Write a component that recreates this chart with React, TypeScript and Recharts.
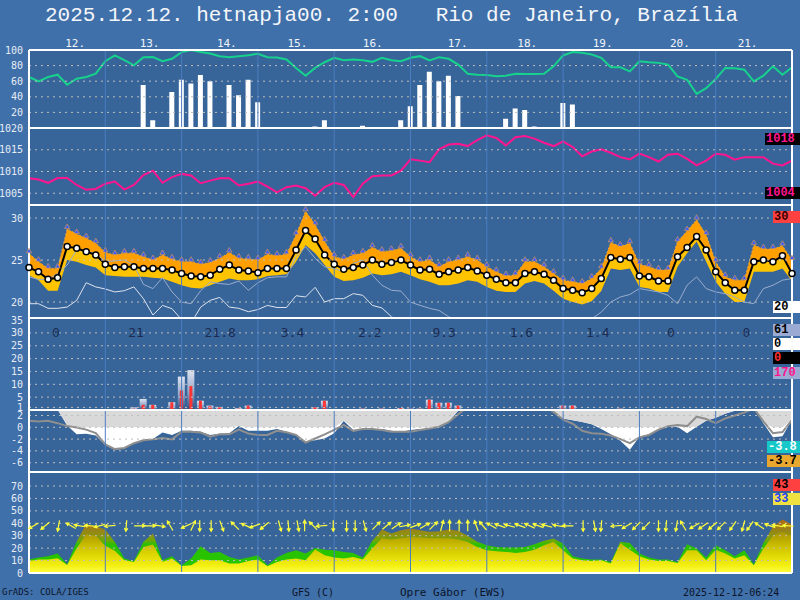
import React from 'react';
import { ComposedChart, Line, Area, Bar, Scatter, XAxis, YAxis, CartesianGrid, ReferenceLine } from 'recharts';

const PAGE_BG = '#4070aa';
const PANEL_BG = '#37659a';
const GRID = '#bdbdbd';
const DAYLINE = '#4a7cc0';
const MONO = '"DejaVu Sans Mono", monospace';
const LABEL_FONT = '"Liberation Mono", monospace';

// 3-hourly steps, index 0..80 (10 days)
const dayNames = ['12.', '13.', '14.', '15.', '16.', '17.', '18.', '19.', '20.', '21.'];
const dayNamePos = [3.8, 11.6, 19.7, 27.1, 35.0, 43.9, 51.2, 59.1, 67.2, 74.3];
const dayLines = [8, 16, 24, 32, 40, 48, 56, 64, 72];
const dayTotals = ['0', '21', '21.8', '3.4', '2.2', '9.3', '1.6', '1.4', '0', '0'];
const dayTotalPos = [2.4, 10.4, 18.4, 26.4, 34.5, 42.3, 50.4, 58.4, 66.9, 74.8];

const humidity = [
  65.4, 59.7, 65.4, 68.3, 55.4, 63.2, 65.4, 69.6, 85.6, 93.0,
  86.9, 80.4, 90.8, 90.9, 85.6, 88.7, 97.3, 99.9, 97.3, 95.6,
  92.1, 90.8, 92.1, 93.4, 95.2, 90.8, 90.4, 87.8, 77.0, 67.1,
  77.0, 84.3, 90.0, 86.9, 87.8, 86.9, 84.8, 90.0, 86.9, 85.6,
  90.0, 92.1, 86.5, 90.8, 88.7, 81.3, 69.6, 68.3, 67.9, 66.2,
  67.1, 69.6, 69.2, 69.2, 69.6, 79.1, 93.0, 97.3, 96.5, 94.3,
  90.0, 77.8, 77.8, 72.6, 85.6, 84.3, 83.5, 81.3, 66.2, 61.9,
  43.7, 51.1, 62.8, 77.0, 76.6, 74.8, 59.7, 67.1, 79.1, 68.3, 77.8,
];

const precipProb = [
  null, null, null, null, null, null, null, null, null, null,
  null, null, 55, 10, null, 46, 62, 57, 68, 60,
  null, 55, 42, 62, 33, null, null, null, null, null,
  2, 10, null, null, null, 3, null, null, null, 10,
  28, 55, 72, 60, 67, 41, null, null, null, null,
  12, 25, 23, 2, null, null, 32, 30, null, null,
  null, null, null, null, null, null, null, null, null, null,
  null, null, null, null, null, null, null, null, null, null, null,
];

const pressure = [
  1008.45, 1008.15, 1007.4, 1008.5, 1008.5, 1006.9, 1005.8, 1006.0, 1007.2, 1007.7,
  1005.85, 1006.9, 1009.2, 1010.2, 1007.4, 1008.7, 1009.45, 1009.1, 1007.3, 1007.9,
  1008.45, 1008.45, 1006.8, 1007.2, 1007.7, 1006.5, 1005.2, 1006.4, 1006.8, 1006.15,
  1004.45, 1006.4, 1007.4, 1006.9, 1004.1, 1007.2, 1008.9, 1009.1, 1009.1, 1010.2,
  1012.8, 1012.5, 1012.15, 1015.1, 1016.2, 1016.4, 1015.85, 1017.2, 1018.3, 1017.7,
  1016.0, 1017.9, 1018.15, 1017.55, 1016.6, 1015.85, 1016.9, 1015.6, 1013.5, 1014.6,
  1015.1, 1014.3, 1013.3, 1012.8, 1014.1, 1013.3, 1012.3, 1013.85, 1014.1, 1012.9,
  1011.4, 1012.5, 1014.1, 1013.85, 1012.7, 1013.3, 1013.3, 1013.3, 1011.8, 1011.4, 1012.5,
];

const tempMain = [
  24.1, 23.6, 22.7, 22.9, 26.6, 26.4, 26.0, 25.6, 24.5, 24.1,
  24.2, 24.2, 24.0, 24.0, 24.0, 23.8, 23.4, 23.1, 23.0, 23.2,
  23.9, 24.4, 23.8, 23.7, 23.5, 24.0, 24.0, 24.0, 26.2, 28.5,
  27.5, 25.6, 24.5, 23.9, 24.1, 24.4, 25.0, 24.5, 24.7, 25.0,
  24.4, 23.8, 23.9, 23.3, 23.6, 23.8, 24.1, 23.7, 23.2, 22.7,
  22.3, 22.3, 23.4, 23.6, 23.3, 22.6, 21.6, 21.4, 21.1, 21.6,
  22.8, 25.3, 25.1, 25.3, 23.1, 23.0, 22.5, 22.5, 25.4, 26.5,
  27.8, 26.2, 23.6, 22.3, 21.4, 21.4, 24.8, 25.0, 24.8, 25.5, 23.4,
];

const tempHigh = [
  25.8, 24.8, 24.0, 24.0, 28.7, 28.1, 27.6, 27.0, 25.9, 25.6,
  25.8, 25.8, 25.4, 25.0, 25.6, 25.1, 24.8, 24.8, 24.5, 24.7,
  25.2, 25.9, 25.2, 25.1, 25.0, 25.7, 25.5, 25.7, 28.0, 30.8,
  29.2, 27.2, 25.4, 25.1, 25.6, 25.8, 26.5, 26.0, 26.1, 26.4,
  25.4, 24.8, 25.0, 24.2, 24.8, 25.0, 25.4, 25.0, 24.2, 23.6,
  23.1, 23.2, 24.8, 24.8, 24.2, 23.4, 22.6, 22.4, 22.2, 22.8,
  24.0, 27.1, 26.6, 27.0, 24.5, 24.2, 23.8, 23.8, 27.2, 28.45,
  29.8, 28.0, 24.8, 23.0, 22.6, 22.6, 26.8, 26.3, 26.3, 26.7, 25.0,
];

const tempLow = [
  23.2, 22.6, 21.35, 21.35, 25.0, 24.8, 24.4, 24.1, 23.2, 23.1,
  23.0, 23.0, 23.0, 22.9, 22.8, 22.4, 22.0, 21.7, 21.6, 22.0,
  22.4, 22.8, 22.6, 22.6, 22.7, 23.1, 23.2, 23.3, 24.8, 26.8,
  25.8, 24.4, 23.0, 22.5, 22.6, 22.9, 23.4, 23.2, 23.3, 23.6,
  23.2, 22.7, 22.4, 22.0, 22.0, 22.2, 22.6, 22.4, 21.8, 21.35,
  21.2, 21.2, 22.2, 22.5, 22.2, 21.35, 20.4, 20.0, 19.7, 20.1,
  21.3, 24.0, 23.8, 24.0, 21.8, 21.6, 21.2, 21.2, 24.2, 25.8,
  27.2, 24.8, 22.4, 21.0, 20.0, 20.0, 23.6, 23.6, 23.6, 24.0, 22.5,
];

const tempLineA = [
  23.0, 22.7, 22.7, 23.4, 24.4, 26.2, 26.0, 25.8, 24.8, 24.9,
  25.0, 24.4, 22.1, 21.6, 22.9, 21.2, 20.0, 19.8, 21.35, 22.4,
  22.2, 22.1, 22.5, 21.4, 22.3, 22.9, 23.0, 23.0, 25.4, 26.6,
  25.2, 24.2, 24.0, 23.6, 24.6, 25.0, 23.2, 22.0, 21.4, 21.3,
  20.0, 19.6, 19.25, 19.0, 18.25, 17.7, null, null, null, null,
  null, null, null, null, null, null, null, null, 17.5, 18.0,
  18.8, 20.0, 20.6, 20.9, 21.6, 21.4, 21.2, 20.8, 19.8, 22.0,
  23.0, 21.6, 21.2, 21.0, 20.6, 20.0, 19.8, 21.6, 22.0, 22.6, 22.8,
];

const tempLineB = [
  19.8, 19.8, 19.25, 19.25, 19.4, 20.2, 22.3, 21.8, 21.55, 21.2,
  21.35, 21.8, 20.4, 18.45, 19.6, 19.2, 17.9, 17.5, 19.4, 20.2,
  20.55, 19.4, 19.25, 18.85, 19.1, 19.6, 19.35, 19.35, 20.75, 20.6,
  21.75, 20.0, 20.4, 20.4, 21.0, 20.8, 19.6, 19.3, 18.25, 17.6,
  null, null, null, null, null, null, null, null, null, null,
  null, null, null, null, null, null, null, null, null, null,
  null, null, null, null, null, null, null, null, null, null,
  null, null, null, null, null, null, null, null, null, null, null,
];

const precipTotal = [
  null, null, null, null, null, null, null, null, null, null,
  null, 1.0, 4.3, 2.0, null, 3.0, 13.0, 15.5, 3.6, 1.7,
  1.2, null, 0.7, 1.7, null, null, null, null, null, null,
  1.0, 3.6, null, null, null, 0.5, null, 0.5, null, 0.7,
  0.5, 0.5, 4.0, 2.8, 2.8, 1.7, null, null, null, null,
  null, null, null, null, null, null, 1.7, 1.7, null, null,
  null, null, 0.5, null, null, null, null, null, null, null,
  null, null, null, null, null, null, null, null, null, null, null,
];

const precipConv = [
  null, null, null, null, null, null, null, null, null, null,
  null, 0.5, 2.0, 2.0, null, 3.0, 7.6, 9.3, 3.6, 1.5,
  1.0, null, 0.5, 1.7, null, null, null, null, null, null,
  1.0, 3.6, null, null, null, 0.5, null, 0.5, null, 0.7,
  0.5, 0.5, 4.0, 2.8, 2.8, 1.7, null, null, null, null,
  null, null, null, null, null, null, 1.7, 1.7, null, null,
  null, null, 0.5, null, null, null, null, null, null, null,
  null, null, null, null, null, null, null, null, null, null, null,
];

const lowerFill = [
  3.5, 3.5, 3.5, 3.0, 0.3, -1.2, -1.1, -1.4, -3.0, -3.8,
  -3.6, -2.7, -2.05, -2.0, -0.9, -1.3, -0.6, -0.6, -0.75, -1.3,
  -1.1, -1.0, 0.2, -0.6, -0.6, -0.6, -0.3, -0.75, -1.4, -2.35,
  -2.2, -1.9, -1.0, 1.05, -0.45, -0.35, -0.35, -0.3, -0.6, -0.75,
  -0.45, -0.3, -0.2, 0.1, 0.95, 2.8, 3.5, 3.5, 3.5, 3.5,
  3.5, 3.5, 3.5, 3.5, 3.5, 2.6, 1.5, 1.2, 0.9, 0.5,
  -0.3, -1.2, -2.3, -3.8, -1.6, -1.2, -0.5, 0.2, 0.1, -1.0,
  0.1, 1.1, 1.6, 2.3, 2.8, 3.5, 3.5, 0.7, -1.7, -1.5, 1.3,
];

const lowerLine = [
  1.1, 1.0, 1.1, 0.7, 0.2, -0.05, -0.4, -1.0, -2.9, -3.7,
  -3.5, -2.7, -2.2, -2.05, -1.8, -2.05, -0.75, -0.75, -0.9, -1.6,
  -1.2, -1.2, -0.4, -1.05, -1.3, -1.3, -0.6, -0.85, -1.3, -2.6,
  -1.9, -1.2, -0.45, 0.4, -0.6, -0.3, -0.3, -0.45, -0.75, -0.75,
  -0.75, -0.45, -0.2, 0.1, 0.85, 2.2, 3.5, 3.5, 3.5, 3.5,
  3.5, 3.5, 3.5, 3.5, 3.5, 2.6, 1.3, 0.6, -0.6, -1.0,
  -1.1, -1.4, -2.0, -2.7, -1.7, -1.3, -0.4, 0.2, 0.4, 0.2,
  1.8, 1.4, 0.7, 1.5, 2.0, 2.5, 3.2, 1.0, -1.0, -0.8, 1.25,
];

const gust = [
  10.8, 12.4, 13.5, 15.6, 7.0, 25.4, 39.5, 37.7, 35.0, 25.0,
  11.6, 9.7, 25.1, 31.8, 10.3, 13.5, 6.2, 11.6, 21.5, 16.2,
  17.0, 12.9, 10.8, 12.4, 14.3, 6.2, 12.4, 16.2, 18.3, 15.6,
  20.2, 18.8, 18.3, 17.0, 16.2, 12.4, 26.0, 35.0, 31.8, 34.5,
  35.9, 34.5, 33.2, 33.7, 35.0, 34.0, 30.0, 25.1, 22.4, 21.0,
  20.5, 20.5, 21.0, 23.2, 25.9, 27.8, 23.7, 13.5, 11.6, 10.8,
  10.8, 8.9, 25.1, 24.2, 15.6, 12.4, 10.8, 10.8, 8.9, 23.2,
  19.7, 12.4, 22.4, 18.3, 13.5, 18.3, 7.0, 24.2, 37.2, 43.0, 39.0,
];

const wind = [
  9.7, 10.8, 10.8, 11.8, 6.5, 20.0, 31.0, 30.0, 22.0, 18.0,
  10.3, 8.9, 21.0, 23.0, 9.0, 11.6, 5.7, 6.2, 10.8, 10.3,
  10.3, 7.6, 7.6, 9.7, 10.8, 5.4, 8.9, 10.8, 11.6, 10.3,
  19.0, 14.3, 12.4, 11.6, 12.9, 10.8, 20.0, 28.0, 27.0, 28.0,
  29.0, 28.5, 28.0, 28.0, 28.0, 27.0, 25.0, 21.0, 18.3, 17.6,
  17.0, 16.2, 17.0, 18.8, 22.4, 25.1, 18.3, 11.6, 10.3, 9.7,
  10.3, 7.6, 24.2, 18.8, 13.5, 10.8, 9.7, 9.7, 8.1, 18.3,
  18.3, 10.3, 18.8, 15.6, 11.6, 14.3, 6.2, 19.7, 30.0, 33.0, 30.0,
];

// wind arrows: position on the time index, direction the arrow points to (deg, 0 = up)
const arrowPos = [
  0.5, 1.7, 3.1, 4.4, 5.3, 6.4, 7.4, 8.5, 10.2, 11.6,
  12.7, 13.7, 14.8, 16.5, 17.2, 17.9, 19.1, 20.2, 21.6, 22.8,
  23.7, 24.7, 26.3, 27.2, 28.2, 28.9, 29.8, 30.7, 31.9, 33.3,
  34.2, 35.2, 36.4, 37.5, 38.5, 39.4, 40.5, 41.5, 42.4, 43.3,
  44.1, 45.1, 46.0, 46.9, 47.6, 48.5, 49.4, 50.4, 51.5, 52.5,
  53.4, 54.3, 55.5, 56.5, 58.1, 59.3, 60.0, 61.6, 62.7, 63.7,
  64.7, 66.0, 66.8, 67.9, 68.6, 69.8, 70.7, 71.7, 72.6, 73.8,
  74.9, 75.6, 76.6, 77.7, 78.5, 79.6,
];
const arrowDir = [
  240, 230, 190, 300, 280, 275, 255, 265, 185, 90,
  90, 100, 330, 245, 25, 180, 180, 160, 315, 295,
  250, 230, 165, 175, 170, 0, 315, 265, 180, 180,
  180, 165, 45, 50, 55, 80, 70, 60, 45, 15,
  0, 0, 0, 340, 320, 300, 290, 285, 290, 295,
  290, 285, 280, 270, 180, 170, 185, 265, 240, 225,
  225, 180, 185, 190, 330, 240, 235, 230, 225, 215,
  195, 215, 305, 290, 280, 275,
];

const rows = humidity.map((h, i) => ({
  i,
  h,
  pp: precipProb[i],
  p: pressure[i],
  t: tempMain[i],
  tHi: tempHigh[i],
  tLo: tempLow[i],
  ta: tempLineA[i],
  tb: tempLineB[i],
  pr: precipTotal[i],
  prc: precipConv[i],
  c1: lowerFill[i],
  c2: lowerLine[i],
  g: gust[i],
  w: wind[i],
}));

const arrowRows = arrowPos.map((pos, k) => ({ i: pos, y: 38, dir: arrowDir[k] }));
const totalRows = dayTotalPos.map((pos, k) => ({ i: pos, y: 30, label: dayTotals[k] }));

const tickStyle = { fill: '#e6ecf5', fontSize: 10, fontFamily: MONO };

function yAxis(domain: number[], ticks: number[]) {
  return (
    <YAxis
      key="y"
      type="number"
      width={29}
      domain={domain}
      ticks={ticks}
      interval={0}
      allowDataOverflow
      tick={tickStyle}
      tickLine={false}
      axisLine={false}
      tickMargin={0}
    />
  );
}

// grid, day separators and the white frame, drawn over the series
function overlay(gridTicks: number[], top: number, bottom?: number) {
  const out = [];
  gridTicks.forEach((v) =>
    out.push(<ReferenceLine key={'g' + v} y={v} stroke={GRID} strokeWidth={1} strokeDasharray="2 4" />)
  );
  dayLines.forEach((d) => out.push(<ReferenceLine key={'d' + d} x={d} stroke={DAYLINE} strokeWidth={1} />));
  out.push(<ReferenceLine key="left" x={0} stroke="#fff" strokeWidth={2} />);
  out.push(<ReferenceLine key="right" x={80} stroke="#fff" strokeWidth={2} />);
  out.push(<ReferenceLine key="top" y={top} stroke="#fff" strokeWidth={2} />);
  if (bottom !== undefined) out.push(<ReferenceLine key="bottom" y={bottom} stroke="#fff" strokeWidth={2} />);
  return out;
}

const DayTick = (p: any) => {
  const k = dayNamePos.indexOf(p.payload.value);
  return (
    <text x={p.x} y={p.y} dy={5} textAnchor="start" fill="#f0f4fa" fontSize={11} fontFamily={MONO}>
      {dayNames[k]}
    </text>
  );
};

const Tri = (p: any) => {
  if (p.cx == null || p.cy == null) return <g />;
  return (
    <path
      d={`M${p.cx} ${p.cy - 5}L${p.cx + 2.6} ${p.cy - 0.5}L${p.cx - 2.6} ${p.cy - 0.5}Z`}
      fill="#3a5cff"
      stroke="#f0a040"
      strokeWidth={0.6}
    />
  );
};

// total precipitation bar with the convective part drawn in red inside it
const PrecipBar = (p: any) => {
  const { x, y, width, height, payload } = p;
  if (!height || height <= 0 || payload.pr == null) return <g />;
  const rh = payload.prc != null ? (height * payload.prc) / payload.pr : 0;
  const rw = 3;
  return (
    <g>
      <rect x={x} y={y} width={width} height={height} fill="url(#prGrad)" />
      <rect x={x + (width - rw) / 2} y={y + height - rh} width={rw} height={rh} fill="#ff3434" />
    </g>
  );
};

const TotalLabel = (p: any) => (
  <text x={p.cx} y={p.cy} dy={4} textAnchor="start" fill="#1b2b52" fontSize={13} fontFamily={MONO}>
    {p.payload.label}
  </text>
);

const WindArrow = (p: any) => {
  const { cx, cy, payload } = p;
  const a = (payload.dir * Math.PI) / 180;
  const dx = Math.sin(a);
  const dy = -Math.cos(a);
  const L = 5.5;
  const H = 3.5;
  const tx = cx + dx * L;
  const ty = cy + dy * L;
  const bx = cx - dx * L;
  const by = cy - dy * L;
  const c = Math.cos(0.5);
  const s = Math.sin(0.5);
  const h1x = tx + H * (-dx * c + dy * s);
  const h1y = ty + H * (-dx * s - dy * c);
  const h2x = tx + H * (-dx * c - dy * s);
  const h2y = ty + H * (dx * s - dy * c);
  return (
    <path
      d={`M${bx} ${by}L${tx} ${ty}M${h1x} ${h1y}L${tx} ${ty}L${h2x} ${h2y}`}
      stroke="#ffff3a"
      strokeWidth={1.2}
      fill="none"
    />
  );
};

const margin = { top: 0, right: 8, bottom: 0, left: 0 };

function Box({ top, left = 773, bg, color, text }: any) {
  return (
    <div
      style={{
        position: 'absolute',
        left,
        top,
        width: 800 - left,
        height: 12,
        background: bg,
        color,
        font: `bold 12px ${LABEL_FONT}`,
        lineHeight: '12px',
        paddingLeft: 1,
        boxSizing: 'border-box',
        whiteSpace: 'pre',
      }}
    >
      {text}
    </div>
  );
}

const footerStyle: React.CSSProperties = {
  position: 'absolute',
  top: 587,
  fontSize: 10,
  fontFamily: MONO,
  color: '#0b1428',
  whiteSpace: 'pre',
};

export default function App() {
  return (
    <div style={{ position: 'absolute', left: 0, top: 0, width: 800, height: 600, background: PAGE_BG, overflow: 'hidden' }}>
      <style>{'.recharts-surface { overflow: visible; }'}</style>
      <div
        style={{
          position: 'absolute',
          left: 45,
          top: 4,
          fontSize: 21,
          lineHeight: '24px',
          fontFamily: LABEL_FONT,
          color: '#f4f6fa',
          whiteSpace: 'pre',
        }}
      >
        {'2025.12.12. hetnapja00. 2:00   Rio de Janeiro, Brazília'}
      </div>

      {/* relative humidity + precipitation probability */}
      <div style={{ position: 'absolute', left: 0, top: 30 }}>
        <ComposedChart width={800} height={98} data={rows} margin={margin}>
          <CartesianGrid horizontal={false} vertical={false} fill={PANEL_BG} fillOpacity={1} />
          <XAxis
            type="number"
            dataKey="i"
            domain={[0, 80]}
            orientation="top"
            height={20}
            ticks={dayNamePos}
            interval={0}
            axisLine={false}
            tickLine={false}
            tick={DayTick}
          />
          {yAxis([0, 100], [20, 40, 60, 80, 100])}
          <Bar dataKey="pp" fill="#ffffff" barSize={5} isAnimationActive={false} />
          <Line dataKey="h" stroke="#16d28c" strokeWidth={2} dot={false} isAnimationActive={false} />
          {overlay([20, 40, 60, 80], 100)}
        </ComposedChart>
      </div>

      {/* pressure */}
      <div style={{ position: 'absolute', left: 0, top: 128 }}>
        <ComposedChart width={800} height={77} data={rows} margin={margin}>
          <CartesianGrid horizontal={false} vertical={false} fill={PANEL_BG} fillOpacity={1} />
          <XAxis type="number" dataKey="i" domain={[0, 80]} hide />
          {yAxis([1002.3, 1020], [1005, 1010, 1015, 1020])}
          <Line dataKey="p" stroke="#ff1590" strokeWidth={2} dot={false} isAnimationActive={false} />
          {overlay([1005, 1010, 1015], 1020)}
        </ComposedChart>
      </div>

      {/* temperature */}
      <div style={{ position: 'absolute', left: 0, top: 205 }}>
        <ComposedChart width={800} height={113} data={rows} margin={margin}>
          <CartesianGrid horizontal={false} vertical={false} fill={PANEL_BG} fillOpacity={1} />
          <XAxis type="number" dataKey="i" domain={[0, 80]} hide />
          {yAxis([18.1, 31.55], [20, 25, 30])}
          <Area dataKey={(d: any) => [d.t, d.tHi]} fill="#ffa000" fillOpacity={1} stroke="none" isAnimationActive={false} />
          <Area dataKey={(d: any) => [d.tLo, d.t]} fill="#ffc400" fillOpacity={1} stroke="none" isAnimationActive={false} />
          <Line dataKey="tHi" stroke="#f2a23a" strokeWidth={1} strokeDasharray="2 2" dot={Tri} isAnimationActive={false} />
          <Line dataKey="ta" stroke="#9aaccc" strokeWidth={1} dot={false} isAnimationActive={false} />
          <Line dataKey="tb" stroke="#dde3ee" strokeWidth={1} dot={false} isAnimationActive={false} />
          <Line
            dataKey="t"
            stroke="#000000"
            strokeWidth={2}
            dot={{ r: 3, fill: '#ffffff', stroke: '#000000', strokeWidth: 1.5 }}
            isAnimationActive={false}
          />
          {overlay([20, 25, 30], 31.55)}
        </ComposedChart>
      </div>

      {/* precipitation */}
      <div style={{ position: 'absolute', left: 0, top: 318 }}>
        <ComposedChart width={800} height={92} data={rows} margin={margin}>
          <defs>
            <linearGradient id="prGrad" x1="0" y1="0" x2="0" y2="1">
              <stop offset="0" stopColor="#dfe4ef" />
              <stop offset="0.55" stopColor="#94a8cc" />
              <stop offset="1" stopColor="#34487a" />
            </linearGradient>
          </defs>
          <CartesianGrid horizontal={false} vertical={false} fill={PANEL_BG} fillOpacity={1} />
          <XAxis type="number" dataKey="i" domain={[0, 80]} hide />
          <XAxis xAxisId="lab" type="number" dataKey="i" domain={[0, 80]} hide />
          {yAxis([0, 35.8], [1, 5, 10, 15, 20, 25, 30, 35])}
          <Bar dataKey="pr" barSize={7} shape={PrecipBar} isAnimationActive={false} />
          <Scatter xAxisId="lab" data={totalRows} dataKey="y" shape={TotalLabel} isAnimationActive={false} />
          {overlay([1, 5, 10, 15, 20, 25, 30], 35.8)}
        </ComposedChart>
      </div>

      {/* lower section of precipitation panel */}
      <div style={{ position: 'absolute', left: 0, top: 410 }}>
        <ComposedChart width={800} height={62} data={rows} margin={margin}>
          <CartesianGrid horizontal={false} vertical={false} fill={PANEL_BG} fillOpacity={1} />
          <XAxis type="number" dataKey="i" domain={[0, 80]} hide />
          {yAxis([-7.58, 2.93], [-6, -4, -2, 0, 2])}
          <Area dataKey="c1" baseValue={2.93} fill="#ffffff" fillOpacity={1} stroke="none" isAnimationActive={false} />
          <Area
            dataKey={(d: any) => Math.max(d.c1, 0)}
            baseValue={2.93}
            fill="#d9d9d9"
            fillOpacity={1}
            stroke="none"
            isAnimationActive={false}
          />
          <Line dataKey="c2" stroke="#8e8e8e" strokeWidth={2} dot={false} isAnimationActive={false} />
          {overlay([-6, -4, -2, 0, 2], 2.93)}
        </ComposedChart>
      </div>

      {/* wind */}
      <div style={{ position: 'absolute', left: 0, top: 472 }}>
        <ComposedChart width={800} height={103} data={rows} margin={{ ...margin, bottom: 2 }}>
          <defs>
            <linearGradient id="gustGrad" x1="0" y1="0" x2="0" y2="1">
              <stop offset="0" stopColor="#b06a12" />
              <stop offset="0.15" stopColor="#a07c18" />
              <stop offset="0.3" stopColor="#8c9410" />
              <stop offset="0.4" stopColor="#6aa808" />
              <stop offset="0.46" stopColor="#2cc000" />
              <stop offset="1" stopColor="#22c800" />
            </linearGradient>
            <linearGradient id="windGrad" x1="0" y1="0" x2="0" y2="1">
              <stop offset="0" stopColor="#a89400" />
              <stop offset="0.45" stopColor="#d6cc00" />
              <stop offset="0.8" stopColor="#f2ee10" />
              <stop offset="1" stopColor="#ffff40" />
            </linearGradient>
          </defs>
          <CartesianGrid horizontal={false} vertical={false} fill={PANEL_BG} fillOpacity={1} />
          <XAxis type="number" dataKey="i" domain={[0, 80]} hide />
          {yAxis([0, 81.3], [0, 10, 20, 30, 40, 50, 60, 70])}
          <Area dataKey="g" fill="url(#gustGrad)" fillOpacity={1} stroke="none" isAnimationActive={false} />
          <Area dataKey="w" fill="url(#windGrad)" fillOpacity={1} stroke="none" isAnimationActive={false} />
          <Scatter data={arrowRows} dataKey="y" shape={WindArrow} isAnimationActive={false} />
          {overlay([10, 20, 30, 40, 50, 60, 70], 81.3, 0)}
        </ComposedChart>
      </div>

      {/* max / min value boxes on the right */}
      <Box top={133} left={765} bg="#000000" color="#ff1590" text="1018" />
      <Box top={187} left={765} bg="#000000" color="#ff1590" text="1004" />
      <Box top={211} bg="#ff4040" color="#3a0000" text="30" />
      <Box top={301} bg="#ffffff" color="#000000" text="20" />
      <Box top={324} bg="#9aaad2" color="#000000" text="61" />
      <Box top={338} bg="#ffffff" color="#000000" text="0" />
      <Box top={352} bg="#000000" color="#ff3030" text="0" />
      <Box top={367} bg="#9aaad2" color="#ff1590" text="170" />
      <Box top={441} left={767} bg="#16c8c8" color="#ffffff" text="-3.8" />
      <Box top={455} left={767} bg="#e8a830" color="#000000" text="-3.7" />
      <Box top={479} bg="#ff4040" color="#000000" text="43" />
      <Box top={493} bg="#f0e040" color="#2040ff" text="33" />

      <div style={{ ...footerStyle, left: 2, fontSize: 9 }}>GrADS: COLA/IGES</div>
      <div style={{ ...footerStyle, left: 292 }}>GFS (C)</div>
      <div style={{ ...footerStyle, left: 400, fontSize: 11, top: 586 }}>Opre Gábor (EWS)</div>
      <div style={{ ...footerStyle, left: 683 }}>2025-12-12-06:24</div>
    </div>
  );
}
